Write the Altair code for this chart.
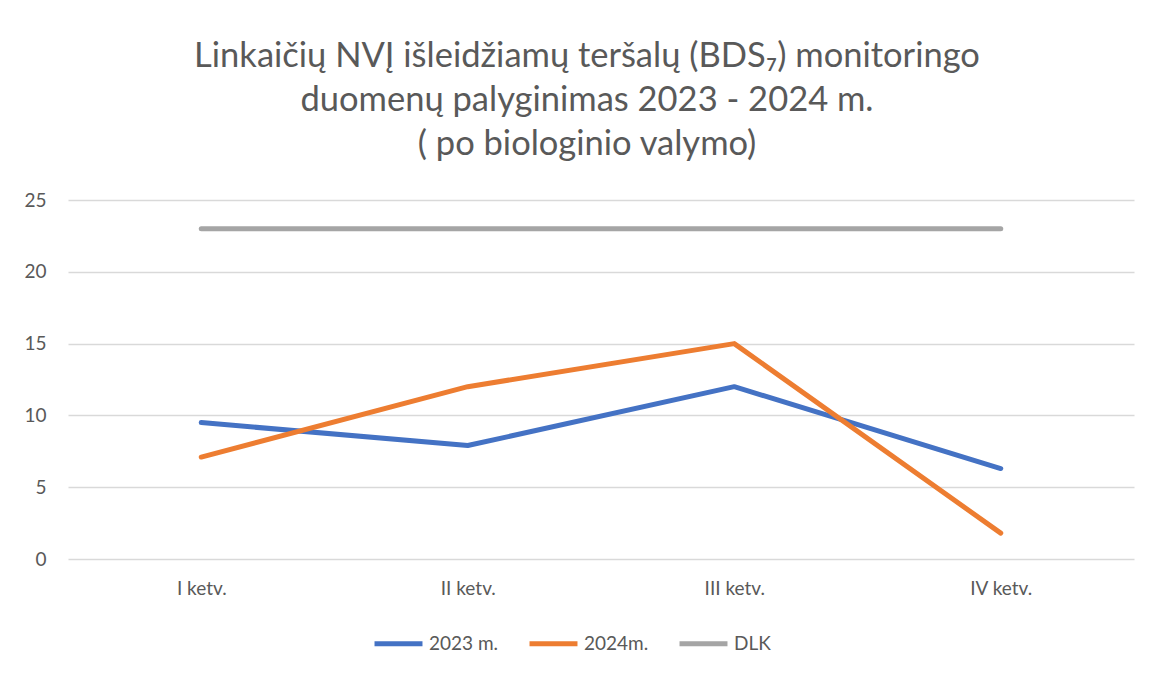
import altair as alt
import pandas as pd

quarters = ["I ketv.", "II ketv.", "III ketv.", "IV ketv."]
series_names = ["2023 m.", "2024m.", "DLK"]
values_2023 = [9.5, 7.9, 12.0, 6.3]
values_2024 = [7.1, 12.0, 15.0, 1.8]
values_dlk = [23, 23, 23, 23]
colors = ["#4472C4", "#ED7D31", "#A5A5A5"]

rows = []
for name, vals in zip(series_names, [values_2023, values_2024, values_dlk]):
    for q, v in zip(quarters, vals):
        rows.append({"ketv": q, "serija": name, "reiksme": v})
df = pd.DataFrame(rows)

FONT = "Lato"
GREY = "#595959"

chart = alt.Chart(df).mark_line(strokeWidth=5, strokeCap="round", strokeJoin="round").encode(
    x=alt.X("ketv:N", sort=quarters, scale=alt.Scale(padding=0.5),
            axis=alt.Axis(title=None, labelAngle=0, ticks=False, domain=False,
                          labelPadding=20, labelFontSize=19, labelColor=GREY, labelFont=FONT)),
    y=alt.Y("reiksme:Q", scale=alt.Scale(domain=[0, 25]),
            axis=alt.Axis(title=None, values=[0, 5, 10, 15, 20, 25], ticks=False, domain=False,
                          labelPadding=22, labelFontSize=19, labelColor=GREY, labelFont=FONT,
                          gridColor="#D9D9D9", gridWidth=1.5)),
    color=alt.Color("serija:N", sort=series_names,
                    scale=alt.Scale(domain=series_names, range=colors),
                    legend=alt.Legend(title=None, orient="none", direction="horizontal",
                                      legendX=304, legendY=417,
                                      symbolType="stroke", symbolStrokeWidth=5, symbolSize=2300,
                                      labelFontSize=19, labelColor=GREY, labelFont=FONT,
                                      columnPadding=20, symbolOffset=0, labelOffset=4)),
    detail="serija:N",
).properties(
    width=1066,
    height=359,
    title=alt.TitleParams(
        text=["Linkaičių NVĮ išleidžiamų teršalų (BDS₇) monitoringo",
              "duomenų palyginimas 2023 - 2024 m.",
              "( po biologinio valymo)"],
        font=FONT, fontSize=34.5, fontWeight="normal", color=GREY,
        lineHeight=44, offset=29, anchor="middle", dx=-14,
    ),
    autosize=alt.AutoSizeParams(type="none"),
    padding={"left": 60, "top": 192, "right": 7, "bottom": 108},
).configure(background="white").configure_view(stroke=None)

chart.save("out.html", embed_options={"renderer": "svg", "actions": False})
